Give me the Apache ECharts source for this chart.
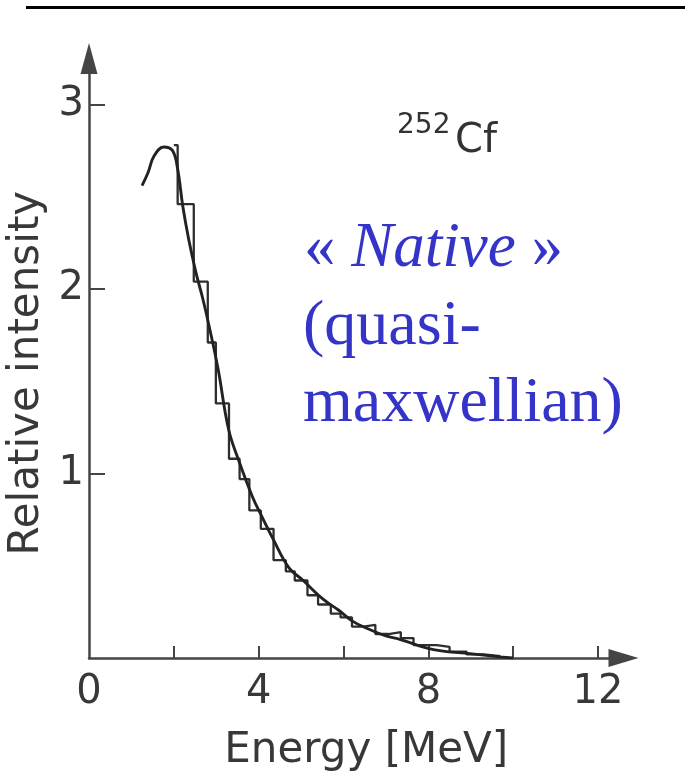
<!DOCTYPE html>
<html><head><meta charset="utf-8">
<script src="https://cdn.jsdelivr.net/npm/echarts@6/dist/echarts.min.js"></script>
<style>html,body{margin:0;padding:0;background:#fff}#c{width:685px;height:775px}</style>
</head><body><div id="c"></div>
<script>
// Smooth fitted spectrum (Energy in MeV, relative intensity)
const curveEnergy = [1.25, 1.39, 1.53, 1.76, 1.97, 2.09, 2.21, 2.35, 2.52, 2.68, 2.84, 3.04, 3.29, 3.53, 3.86, 4.09, 4.35, 4.71, 5.05, 5.51, 5.88, 6.21, 6.56, 7.0, 7.34, 8.12, 8.92, 9.69, 10.0];
const curveIntensity = [2.56, 2.63, 2.72, 2.77, 2.75, 2.65, 2.45, 2.27, 2.09, 1.95, 1.79, 1.57, 1.24, 1.07, 0.87, 0.76, 0.64, 0.49, 0.42, 0.32, 0.26, 0.20, 0.16, 0.12, 0.10, 0.045, 0.025, 0.006, 0.0];
// Measured histogram: bin edges and bin heights
const histEdges = [2.00, 2.09, 2.47, 2.80, 2.99, 3.30, 3.55, 3.78, 4.05, 4.35, 4.64, 4.85, 5.15, 5.40, 5.70, 5.93, 6.20, 6.47, 6.75, 7.06, 7.35, 7.65, 8.20, 8.50, 8.90, 9.30, 9.70];
const histHeights = [2.78, 2.46, 2.04, 1.71, 1.38, 1.08, 0.97, 0.80, 0.70, 0.53, 0.47, 0.42, 0.34, 0.29, 0.24, 0.22, 0.17, 0.18, 0.13, 0.14, 0.108, 0.07, 0.06, 0.035, 0.02, 0.01];
// Axis ticks and labels
const xTickValues = [2, 4, 6, 8, 10, 12];
const xLabelValues = [0, 4, 8, 12];
const yTickValues = [1, 2, 3];
const xAxisTitle = 'Energy [MeV]';
const yAxisTitle = 'Relative intensity';
const isotopeMass = '252';
const isotopeSymbol = 'Cf';
const annotationLines = ['Native', '(quasi-', 'maxwellian)'];

const curveData = curveEnergy.map((e, i) => [e, curveIntensity[i]]);
const histData = histEdges.slice(0, -1).map((e, i) => [e, histHeights[i]]);
histData.push([histEdges[histEdges.length - 1], histHeights[histHeights.length - 1]]);

const chart = echarts.init(document.getElementById('c'), null, {renderer: 'canvas'});
const axisColor = '#454545';
const textColor = '#383838';
const font = 'DejaVu Sans';
const blue = '#3434c8';
const serif = '"Liberation Serif", "Times New Roman", serif';

chart.setOption({
  animation: false,
  backgroundColor: '#ffffff',
  grid: {left: 89, right: 61.5, top: 58.4, bottom: 117, containLabel: false, outerBoundsMode: 'none'},
  xAxis: {
    type: 'value', min: 0, max: 12.6, interval: 2,
    axisLine: {show: true, onZero: false, symbol: ['none', 'triangle'], symbolSize: [18, 30],
      lineStyle: {color: axisColor, width: 2.5}},
    axisTick: {show: true, inside: true, length: 12, customValues: xTickValues,
      lineStyle: {color: axisColor, width: 2}},
    axisLabel: {customValues: xLabelValues, margin: 15, fontFamily: font, fontSize: 40, color: textColor},
    splitLine: {show: false},
    name: xAxisTitle, nameLocation: 'middle', nameGap: 72,
    nameTextStyle: {fontFamily: font, fontSize: 42, color: textColor, padding: [0, 0, 0, 20]}
  },
  yAxis: {
    type: 'value', min: 0, max: 3.25,
    axisLine: {show: true, onZero: false, symbol: ['none', 'triangle'], symbolSize: [17, 31],
      lineStyle: {color: axisColor, width: 2.5}},
    axisTick: {show: true, inside: true, length: 16, customValues: yTickValues,
      lineStyle: {color: axisColor, width: 2}},
    axisLabel: {customValues: yTickValues, margin: 5, fontFamily: font, fontSize: 40, color: textColor},
    splitLine: {show: false},
    name: yAxisTitle, nameLocation: 'middle', nameGap: 32, nameRotate: 90,
    nameTextStyle: {fontFamily: font, fontSize: 42, color: textColor, padding: [0, 30, 0, 0]}
  },
  series: [
    {
      type: 'line', data: histData, step: 'end', symbol: 'none', silent: true,
      lineStyle: {color: '#2e2e2e', width: 2.3}
    },
    {
      type: 'line', data: curveData, smooth: 0.4, symbol: 'none', silent: true,
      lineStyle: {color: '#222222', width: 2.9}
    }
  ],
  graphic: [
    {type: 'rect', shape: {x: 26, y: 6, width: 659, height: 3}, style: {fill: '#000'}, silent: true},
    {type: 'text', x: 397, y: 126, style: {text: isotopeMass, fontFamily: font, fontSize: 28, fill: '#333', align: 'left', verticalAlign: 'middle'}},
    {type: 'text', x: 455, y: 142, style: {text: isotopeSymbol, fontFamily: font, fontSize: 40, fill: '#333', align: 'left', verticalAlign: 'middle'}},
    {type: 'text', x: 304, y: 249, style: {
      text: '{g|«} {n|' + annotationLines[0] + '} {g|»}',
      rich: {
        g: {fontFamily: serif, fontSize: 63, fill: blue, color: blue},
        n: {fontFamily: serif, fontSize: 63, fontStyle: 'italic', fill: blue, color: blue}
      },
      align: 'left', verticalAlign: 'middle', fontFamily: serif, fontSize: 63, fill: blue}},
    {type: 'text', x: 303, y: 327, style: {text: annotationLines[1], fontFamily: serif, fontSize: 64, fill: blue, align: 'left', verticalAlign: 'middle'}},
    {type: 'text', x: 303, y: 404, style: {text: annotationLines[2], fontFamily: serif, fontSize: 64, fill: blue, align: 'left', verticalAlign: 'middle'}}
  ]
});
</script>
</body></html>
